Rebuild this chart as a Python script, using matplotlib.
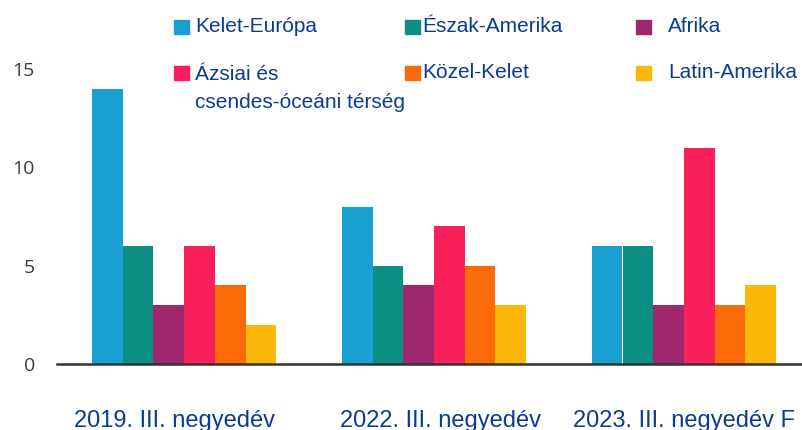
import matplotlib.pyplot as plt
import matplotlib.transforms as mtransforms
from matplotlib.patches import Rectangle
import numpy as np

# Adatok
periods = ["2019. III. negyedév", "2022. III. negyedév", "2023. III. negyedév F"]
regions = ["Kelet-Európa", "Észak-Amerika", "Afrika",
           "Ázsiai és\ncsendes-óceáni térség", "Közel-Kelet", "Latin-Amerika"]
values = {
    "Kelet-Európa": [14, 8, 6],
    "Észak-Amerika": [6, 5, 6],
    "Afrika": [3, 4, 3],
    "Ázsiai és\ncsendes-óceáni térség": [6, 7, 11],
    "Közel-Kelet": [4, 5, 3],
    "Latin-Amerika": [2, 3, 4],
}
colors = ["#1a9fd2", "#0b8f82", "#a0266e", "#f7205a", "#fb6a08", "#fbb80b"]
yticks = [0, 5, 10, 15]

W, H = 803, 430
fig = plt.figure(figsize=(W / 100, H / 100), dpi=100)
ax = fig.add_axes([57 / W, (H - 364) / H, 1 - 57 / W, 364 / H])

text_blue = "#0b3c8e"
bw = 0.123
x = np.arange(len(periods))
for i, r in enumerate(regions):
    ax.bar(x + (i - 2.5) * bw, values[r], width=bw, color=colors[i])

ax.set_xlim(-0.508, 2.476)
ax.set_ylim(0, 18.5)
ax.set_yticks(yticks)
ax.set_yticklabels([str(v) for v in yticks], fontsize=14, color="#3c3c3c",
                   family="Open Sans")
ax.set_xticks(x)
ax.set_xticklabels(periods, fontsize=17, color=text_blue, family="Liberation Sans")
ax.tick_params(axis="y", length=0, pad=16)
ax.tick_params(axis="x", length=0, pad=33)
# a feliratok kissé el vannak tolva a csoportközéptől
for lbl, dx in zip(ax.get_xticklabels(), [-9, 6, 0]):
    lbl.set_transform(lbl.get_transform() +
                      mtransforms.ScaledTranslation(dx / 100, 0, fig.dpi_scale_trans))
for s in ["top", "right", "left"]:
    ax.spines[s].set_visible(False)
ax.spines["bottom"].set_color("#333333")
ax.spines["bottom"].set_linewidth(1.8)

# Jelmagyarázat kézzel elhelyezve
sq_x = [174, 405, 636]
txt_x = [195, 422, 668]
row_y = [27, 73]
for i, r in enumerate(regions):
    col, row = i % 3, i // 3
    cy = row_y[row]
    fig.patches.append(Rectangle((sq_x[col] / W, 1 - (cy + 7) / H), 15 / W, 14 / H,
                                 transform=fig.transFigure, color=colors[i]))
    if "\n" in r:
        fig.text(txt_x[col] / W, 1 - (cy - 8) / H, r, fontsize=15, color=text_blue,
                 family="Liberation Sans", va="top", ha="left", linespacing=1.6)
    else:
        fig.text(txt_x[col] / W, 1 - cy / H, r, fontsize=15, color=text_blue,
                 family="Liberation Sans", va="center", ha="left")

fig.savefig("out.png", dpi=100)
